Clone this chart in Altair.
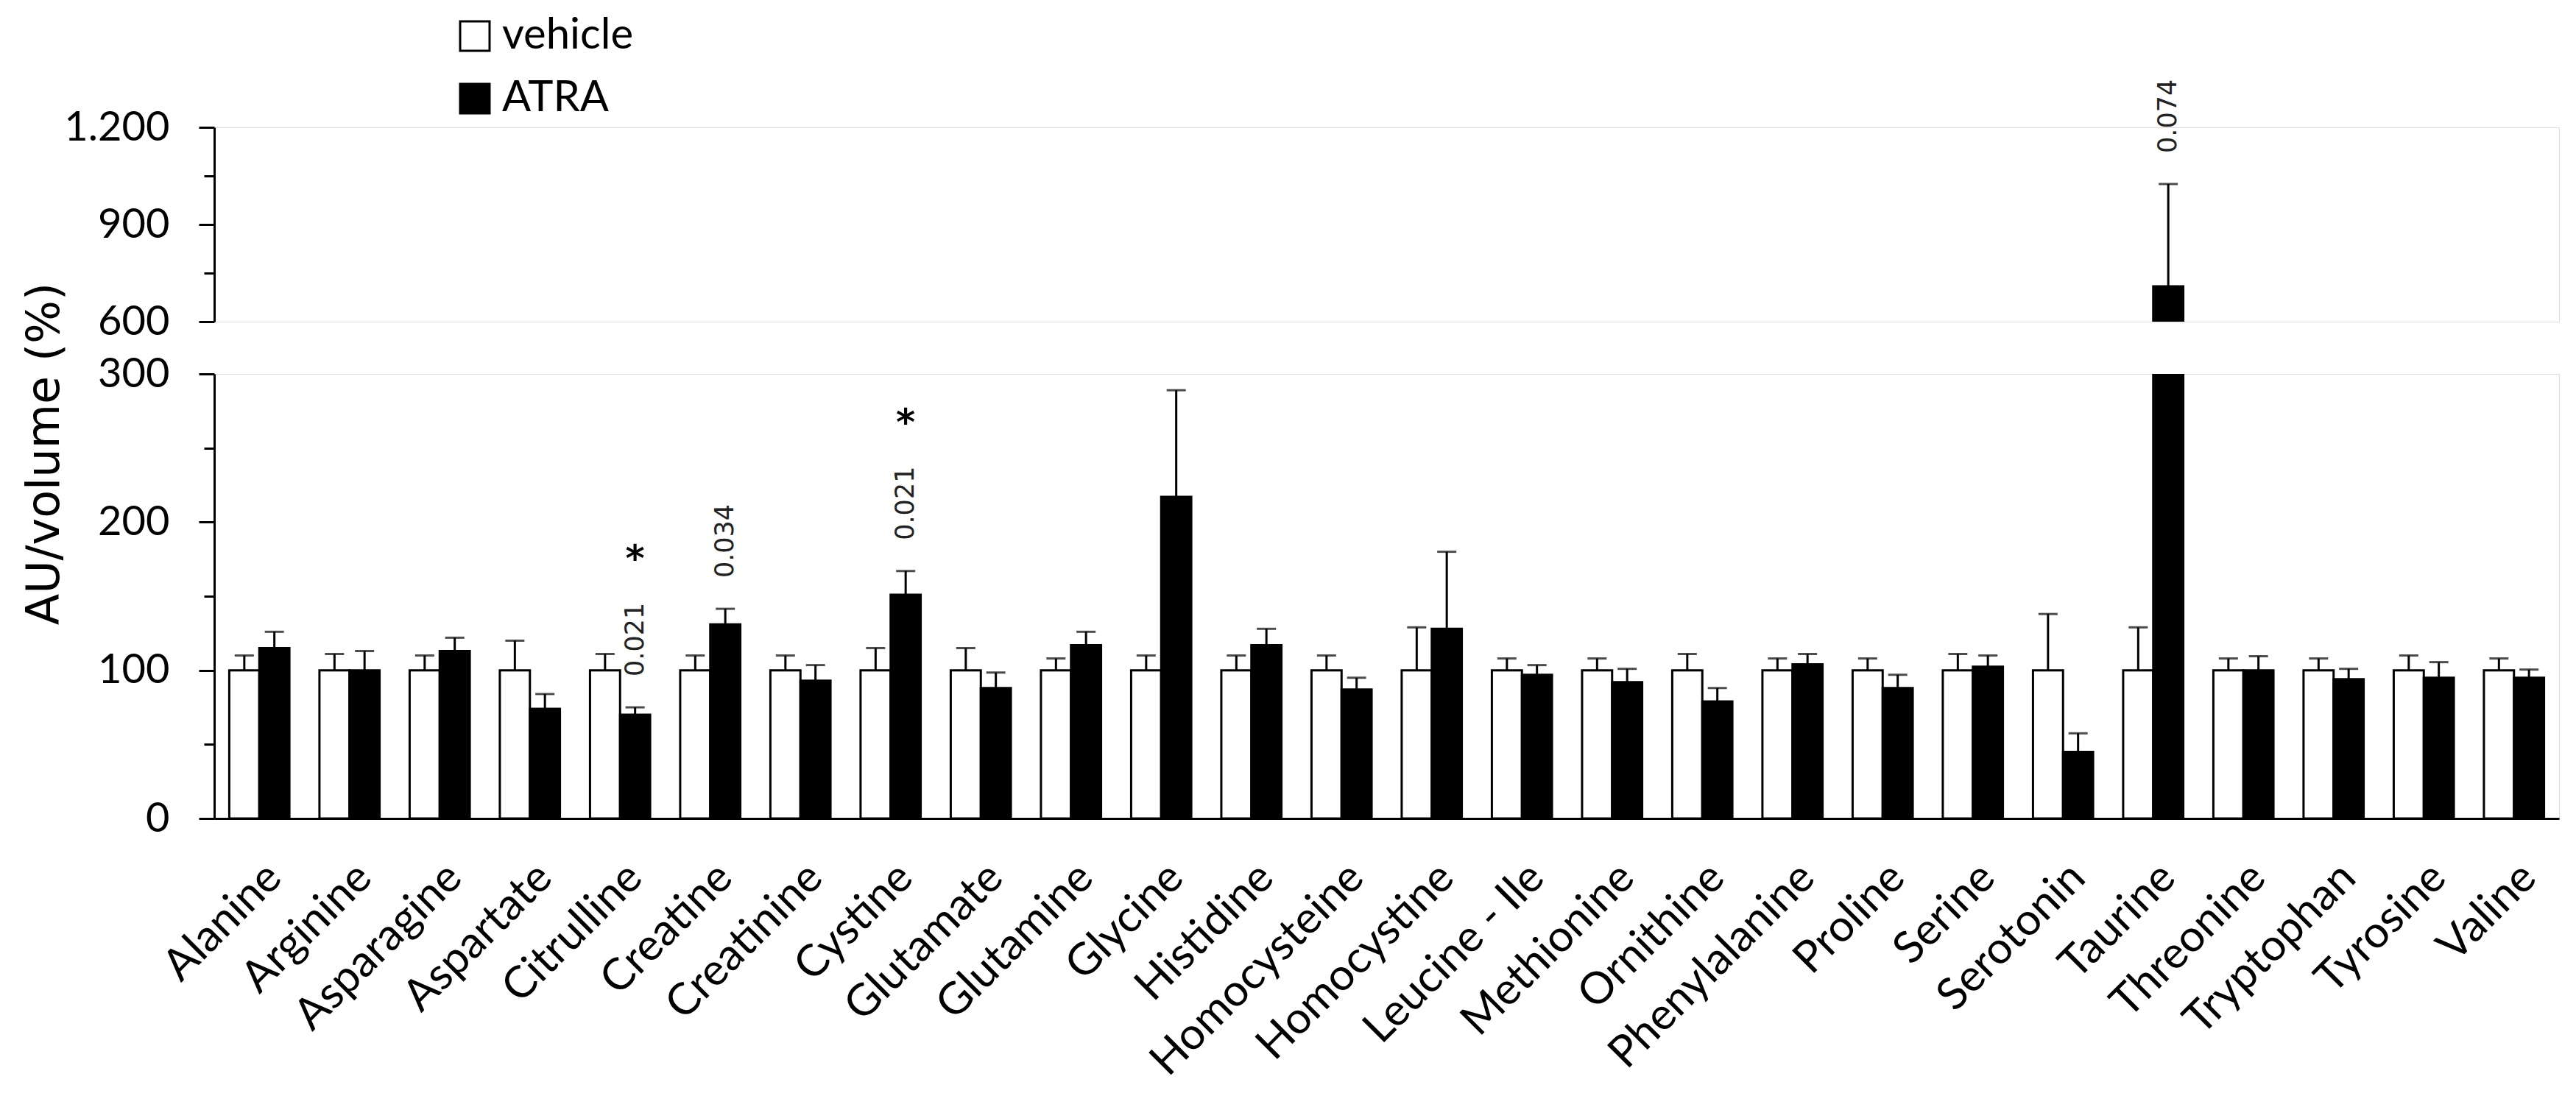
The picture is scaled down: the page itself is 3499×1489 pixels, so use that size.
import altair as alt
import pandas as pd

categories = ["Alanine", "Arginine", "Asparagine", "Aspartate", "Citrulline", "Creatine",
              "Creatinine", "Cystine", "Glutamate", "Glutamine", "Glycine", "Histidine",
              "Homocysteine", "Homocystine", "Leucine - Ile", "Methionine", "Ornithine",
              "Phenylalanine", "Proline", "Serine", "Serotonin", "Taurine", "Threonine",
              "Tryptophan", "Tyrosine", "Valine"]
groups = ["vehicle", "ATRA"]

vehicle_mean = [100, 100, 100, 100, 100, 100, 100, 100, 100, 100, 100, 100, 100,
                100, 100, 100, 100, 100, 100, 100, 100, 100, 100, 100, 100, 100]
vehicle_sem = [10, 11, 10, 20, 11, 10, 10, 15, 15, 8, 10, 10, 10,
               29, 8, 8, 11, 8, 8, 11, 38, 29, 8, 8, 10, 8]
atra_mean = [115, 100, 113, 74, 70, 131, 93, 151, 88, 117, 217, 117, 87,
             128, 97, 92, 79, 104, 88, 102.5, 45, 709, 100, 94, 95, 95]
atra_sem = [11, 13, 9, 10, 5, 10.5, 10.5, 16, 10.5, 9, 72, 11, 8,
            52, 6.5, 9, 9, 7, 9, 7.5, 12.5, 316, 9.5, 7, 10.5, 5.5]
p_labels = ["", "", "", "", "0.021", "0.034", "", "0.021", "", "", "", "", "",
            "", "", "", "", "", "", "", "", "0.074", "", "", "", ""]
star_labels = ["", "", "", "", "*", "", "", "*", "", "", "", "", "",
               "", "", "", "", "", "", "", "", "", "", "", "", ""]

rows = []
for i, c in enumerate(categories):
    rows.append(dict(cat=c, group="vehicle", mean=vehicle_mean[i],
                     top=vehicle_mean[i] + vehicle_sem[i], p="", star=""))
    rows.append(dict(cat=c, group="ATRA", mean=atra_mean[i],
                     top=atra_mean[i] + atra_sem[i], p=p_labels[i], star=star_labels[i]))
df = pd.DataFrame(rows)

W = 3185
FONT = "Lato"

xo = alt.XOffset("group:N", scale=alt.Scale(domain=groups, paddingInner=0, paddingOuter=0))


def xenc(axis):
    return alt.X("cat:N",
                 scale=alt.Scale(domain=categories, paddingInner=1 / 3, paddingOuter=1 / 6),
                 axis=axis)


def panel(ydom, height, yaxis, xaxis, legend, bar_filter, top_filter):
    base = alt.Chart(df)
    yscale = alt.Scale(domain=ydom, nice=False, zero=False)
    bars = base.mark_bar(stroke="black", strokeWidth=3, clip=True).encode(
        x=xenc(xaxis), xOffset=xo,
        y=alt.Y("mean:Q", scale=yscale, axis=yaxis),
        fill=alt.Fill("group:N", scale=alt.Scale(domain=groups, range=["white", "black"]),
                      legend=legend),
    )
    if bar_filter:
        bars = bars.transform_filter(bar_filter)
    err = base.mark_rule(color="black", strokeWidth=3, clip=True).encode(
        x=xenc(xaxis), xOffset=xo, y=alt.Y("mean:Q", scale=yscale), y2="top:Q"
    )
    cap = base.mark_tick(color="black", thickness=3, size=26, clip=True).encode(
        x=xenc(xaxis), xOffset=xo, y=alt.Y("top:Q", scale=yscale)
    )
    ptext = base.mark_text(angle=270, align="left", baseline="middle", dx=42,
                           font="DejaVu Sans", fontSize=35, color="#222222").encode(
        x=xenc(xaxis), xOffset=xo, y=alt.Y("top:Q", scale=yscale), text="p:N"
    ).transform_filter("datum.p != ''").transform_filter(top_filter)
    star = base.mark_text(baseline="middle", dy=-200, font="DejaVu Sans",
                          fontWeight="bold", fontSize=50, color="black").encode(
        x=xenc(xaxis), xOffset=xo, y=alt.Y("top:Q", scale=yscale), text="star:N"
    ).transform_filter("datum.star != ''").transform_filter(top_filter)
    return alt.layer(bars, err, cap, ptext, star).properties(width=W, height=height)


axis_common = dict(grid=False, domainColor="black", domainWidth=3, tickColor="black",
                   tickWidth=3, labelFont=FONT, labelFontSize=56, labelColor="black",
                   labelPadding=40)

upper_axis = alt.Axis(
    values=[600, 750, 900, 1050, 1200], title=None,
    labelExpr="datum.value % 300 === 0 ? replace(format(datum.value, ','), ',', '.') : ''",
    tickSize={"condition": {"test": "datum.value % 300 === 0", "value": 21}, "value": 14},
    **axis_common)

lower_axis = alt.Axis(
    values=[0, 50, 100, 150, 200, 250, 300], title="AU/volume (%)",
    labelExpr="datum.value % 100 === 0 ? datum.label : ''",
    tickSize={"condition": {"test": "datum.value % 100 === 0", "value": 21}, "value": 14},
    titleFont="DejaVu Sans", titleFontSize=62, titleFontWeight="normal", titleColor="black",
    titleX=-199, titleY=108, titleAngle=270, titleAlign="center", titleBaseline="bottom",
    titleLimit=0,
    **axis_common)

x_axis = alt.Axis(title=None, labelAngle=-45, ticks=False, labelFont=FONT,
                  labelFontSize=60, labelColor="black", labelPadding=50, labelLimit=0,
                  domainColor="black", domainWidth=3)

legend = alt.Legend(title=None, orient="none", legendX=325, legendY=-153,
                    symbolType="square", symbolSize=1600, symbolStrokeColor="black",
                    symbolStrokeWidth=3, labelFont=FONT, labelFontSize=58,
                    labelColor="black", labelOffset=8, rowPadding=27, padding=0,
                    labelLimit=0)

upper = panel([600, 1200], 264, upper_axis, None, legend, "datum.mean > 600", "datum.top > 600")
lower = panel([0, 300], 604, lower_axis, x_axis, None, None, "datum.top <= 300")

chart = alt.vconcat(upper, lower, spacing=71, bounds="flush").resolve_scale(
    fill="independent"
).properties(
    padding={"left": 20, "top": 11, "right": 5, "bottom": 5}
).configure_view(stroke=None).configure(background="white")

chart.save("out.html", embed_options={"renderer": "svg", "actions": False})
